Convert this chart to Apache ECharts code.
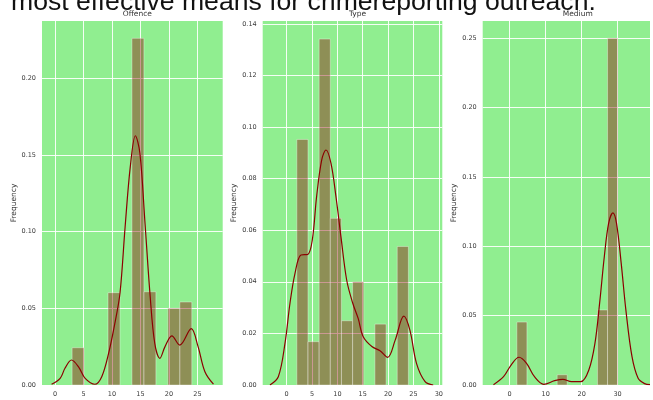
<!DOCTYPE html>
<html>
<head>
<meta charset="utf-8">
<script src="https://cdn.jsdelivr.net/npm/echarts@6/dist/echarts.min.js"></script>
<style>
  html, body { margin: 0; padding: 0; background: #ffffff; }
  #chart { width: 653px; height: 400px; }
</style>
</head>
<body>
<div id="chart"></div>
<script>
// Histogram bin edges and densities for each column
const offenceEdges = [3, 5.1, 7.2, 9.3, 11.4, 13.5, 15.6, 17.7, 19.8, 21.9, 24];
const offenceDensity = [0.0243, 0, 0, 0.0602, 0, 0.226, 0.0608, 0, 0.050, 0.0541];
const typeEdges = [2, 4.2, 6.4, 8.6, 10.8, 13, 15.2, 17.4, 19.6, 21.8, 24];
const typeDensity = [0.0952, 0.0168, 0.1341, 0.0646, 0.0249, 0.0400, 0, 0.0236, 0, 0.0537];
const mediumEdges = [2, 4.8, 7.6, 10.4, 13.2, 16, 18.8, 21.6, 24.4, 27.2, 30];
const mediumDensity = [0.0454, 0, 0, 0, 0.0074, 0, 0, 0, 0.0541, 0.25];

// Kernel density curves
const offenceKdeX = [-0.6, 0.9, 1.75, 2.9, 4.1, 5.3, 7.0, 8.2, 9.4, 10.5, 11.4, 12.3, 13.2, 14.1, 14.9, 15.8, 16.7, 17.5, 18.4, 19.3, 20.5, 21.9, 23.9, 25.1, 26.3, 27.8];
const offenceKdeY = [0.0005, 0.0043, 0.0109, 0.0163, 0.012, 0.0043, 0.0005, 0.0054, 0.0206, 0.0402, 0.0598, 0.103, 0.142, 0.1625, 0.151, 0.105, 0.0576, 0.0272, 0.0174, 0.025, 0.032, 0.026, 0.0367, 0.025, 0.0087, 0.0005];
const typeKdeX = [-3.3, -1.65, -0.33, 0.65, 1.64, 2.82, 4.14, 5.05, 5.9, 6.9, 7.75, 8.74, 9.72, 10.7, 11.83, 13.0, 14.1, 15.1, 16.8, 18.4, 19.9, 21.4, 23.1, 24.3, 25.6, 27.3, 28.9];
const typeKdeY = [0, 0.0032, 0.0162, 0.0317, 0.0433, 0.0504, 0.0506, 0.0562, 0.073, 0.0872, 0.0911, 0.0859, 0.073, 0.0575, 0.0407, 0.0319, 0.0258, 0.0187, 0.0149, 0.0133, 0.0107, 0.0174, 0.0267, 0.0213, 0.0084, 0.0013, 0];
const mediumKdeX = [-4.5, -1.7, 0.4, 2.6, 4.7, 6.9, 9.5, 12.5, 14.8, 17.2, 19.8, 22.0, 23.7, 25.0, 26.3, 27.5, 28.7, 29.7, 31.0, 32.3, 34.0, 35.7, 37.5, 39];
const mediumKdeY = [0.0002, 0.006, 0.0144, 0.020, 0.0156, 0.006, 0.0005, 0.0031, 0.0041, 0.0024, 0.0024, 0.0108, 0.030, 0.059, 0.0925, 0.1166, 0.1242, 0.1166, 0.0877, 0.054, 0.0204, 0.0048, 0.001, 0.0002];

const panelTitles = ['Offence', 'Type', 'Medium'];
const yLabel = 'Frequency';
const heading = 'most effective means for crimereporting outreach.';

const panels = [
  { edges: offenceEdges, density: offenceDensity, kx: offenceKdeX, ky: offenceKdeY,
    grid: { left: 42, top: 21, width: 180.7, height: 364 },
    x: { min: -2.28, max: 29.42, step: 5 }, y: { max: 0.2373, step: 0.05 } },
  { edges: typeEdges, density: typeDensity, kx: typeKdeX, ky: typeKdeY,
    grid: { left: 262.7, top: 21, width: 179.6, height: 364 },
    x: { min: -4.73, max: 30.69, step: 5 }, y: { max: 0.1411, step: 0.02 } },
  { edges: mediumEdges, density: mediumDensity, kx: mediumKdeX, ky: mediumKdeY,
    grid: { left: 482.7, top: 21, width: 180, height: 364 },
    x: { min: -7.49, max: 39.0, step: 10 }, y: { max: 0.2625, step: 0.05 } }
];

const labelFont = { fontFamily: 'DejaVu Sans', fontSize: 6.5, color: '#3a3a3a' };
const isMultiple = (v, s) => Math.abs(v / s - Math.round(v / s)) < 1e-6;

function renderBar(params, api) {
  const h = api.value(2);
  if (!h) return null;
  const p0 = api.coord([api.value(0), 0]);
  const p1 = api.coord([api.value(1), h]);
  return {
    type: 'rect',
    shape: { x: p0[0], y: p1[1], width: p1[0] - p0[0], height: p0[1] - p1[1] },
    style: { fill: 'rgba(139,0,0,0.4)', stroke: 'rgba(255,255,255,0.35)', lineWidth: 1 }
  };
}

const grids = [], xAxes = [], yAxes = [], series = [], titles = [];
panels.forEach((p, i) => {
  grids.push(Object.assign({ show: true, backgroundColor: '#90ee90', borderWidth: 0 }, p.grid));
  const splitLine = { show: true, showMinLine: false, showMaxLine: false,
    lineStyle: { color: 'rgba(255,255,255,0.9)', width: 1 } };
  xAxes.push({
    type: 'value', gridIndex: i, min: p.x.min, max: p.x.max,
    minInterval: p.x.step, maxInterval: p.x.step,
    axisLine: { show: false }, axisTick: { show: false }, splitLine,
    axisLabel: Object.assign({ margin: 6, formatter: v => isMultiple(v, p.x.step) ? String(Math.round(v)) : '' }, labelFont)
  });
  yAxes.push({
    type: 'value', gridIndex: i, min: 0, max: p.y.max,
    minInterval: p.y.step, maxInterval: p.y.step,
    name: yLabel, nameLocation: 'middle', nameGap: 23,
    nameTextStyle: { fontFamily: 'DejaVu Sans', fontSize: 7.5, color: '#333' },
    axisLine: { show: false }, axisTick: { show: false }, splitLine,
    axisLabel: Object.assign({ margin: 6, formatter: v => isMultiple(v, p.y.step) ? v.toFixed(2) : '' }, labelFont)
  });
  const bars = p.density.map((d, k) => [p.edges[k], p.edges[k + 1], d]);
  series.push({
    type: 'custom', xAxisIndex: i, yAxisIndex: i, renderItem: renderBar,
    encode: { x: [0, 1], y: 2 }, data: bars, silent: true
  });
  series.push({
    type: 'line', xAxisIndex: i, yAxisIndex: i, smooth: 0.35, showSymbol: false,
    lineStyle: { color: '#8b0000', width: 1.2 },
    data: p.kx.map((x, k) => [x, p.ky[k]]), silent: true
  });
  titles.push({
    text: panelTitles[i], left: p.grid.left + p.grid.width / 2, top: 5, textAlign: 'center',
    textStyle: { fontFamily: 'DejaVu Sans', fontSize: 7.5, fontWeight: 'normal', color: '#333' }
  });
});

const chart = echarts.init(document.getElementById('chart'), null, { renderer: 'canvas' });
chart.setOption({
  animation: false,
  backgroundColor: '#ffffff',
  title: titles,
  grid: grids,
  xAxis: xAxes,
  yAxis: yAxes,
  series: series,
  graphic: [{
    type: 'text', left: 11, top: -11,
    style: { text: heading, fontFamily: 'Liberation Sans, Arial, sans-serif', fontSize: 26.6, fill: '#111' }
  }]
});
</script>
</body>
</html>
